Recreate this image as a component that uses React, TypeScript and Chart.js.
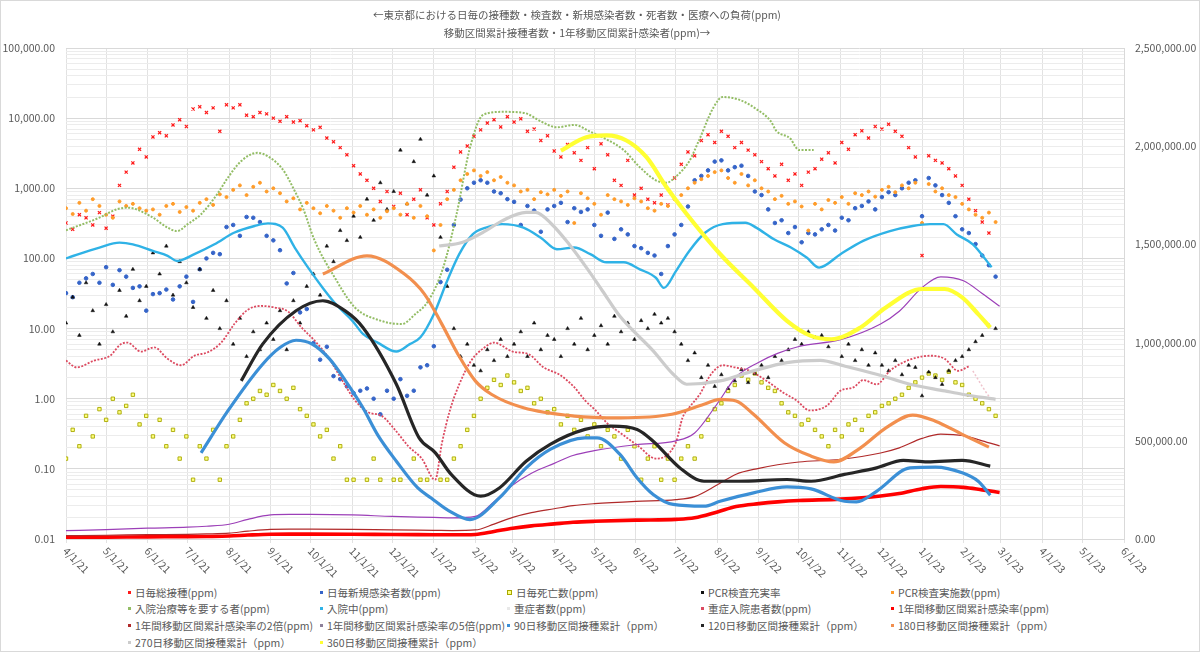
import React, { useEffect, useRef } from 'react';
import { Chart, registerables } from 'chart.js';

Chart.register(...registerables);

const FONT = "'Noto Sans CJK JP', 'Noto Sans', sans-serif";
const TEXT = '#595959';

const titleLines = [
  '←東京都における日毎の接種数・検査数・新規感染者数・死者数・医療への負荷(ppm)',
  '移動区間累計接種者数・1年移動区間累計感染者(ppm)→',
];

const START = Date.UTC(2021, 3, 1);
const toDay = (s: string) => {
  const [y, m, d] = s.split('-').map(Number);
  return (Date.UTC(y, m - 1, d) - START) / 86400000;
};

// month ticks 4/1/21 .. 6/1/23
const monthDays: number[] = [];
const monthLabels: string[] = [];
for (let k = 0; k <= 26; k++) {
  const y = 2021 + Math.floor((3 + k) / 12);
  const m = (3 + k) % 12;
  monthDays.push((Date.UTC(y, m, 1) - START) / 86400000);
  monthLabels.push(`${m + 1}/1/${String(y).slice(2)}`);
}

// daily scatter series, read every 5th day from 4/1/21
const sampleDays = Array.from({ length: 140 }, (_, i) => i * 5);

const dailyVaccinations = [
  320, 260, 420, 380, 300, 450,
  270, 400, 1100, 1700, 2300, 3600, 2800,
  5400, 6200, 5600, 8000, 9500, 7600,
  13500, 14500, 12000, 14000, 6500, 15500,
  14000, 15500, 11000, 10500, 12000, 11500,
  10000, 9000, 10500, 8800, 9200, 7800,
  6800, 7400, 5200, 4600, 3800, 3000,
  2100, 1600, 1300, 1000, 650, 900,
  550, 850, 420, 700, 950, 380,
  300, 600, 900, 2000, 3300, 4000, 5500,
  6800, 8500, 9500, 7500, 10500,
  8800, 9800, 6500, 7000, 4800, 5600,
  3400, 2800, 4200, 3200, 2500, 3800,
  1900, 4300, 3000, 1300, 1100, 2500, 800,
  1000, 700, 620, 800, 580, 1400,
  2200, 3300, 2900, 4800, 5800, 4500,
  6500, 5500, 3800, 4500, 3500, 3000,
  2400, 1900, 1500, 2200, 1300, 1600,
  1100, 1700, 1900, 2600, 3200, 2300,
  4500, 3600, 5800, 6600, 5200, 7600,
  7000, 8200, 6500, 5500, 3800, 2800,
  110, 2900, 2500, 2300, 1900, 1500, 1100,
  700, 480, 330, 230, null,
];

const dailyCases = [
  32, 28, 45, 52, 60, 45,
  75, 42, 68, 55, 38, 40, 18,
  31, 32, 36, 26, 40, 55,
  24, 70, 100, 120, 115, 280,
  300, 210, 390, 380, 330, 210,
  181, 131, 44, 62, 17, 19,
  6.2, 3.6, 5.5, 2.1, 1.9, 1.5,
  1.2, 1.3, 1.4, 1.0, 0.6, 1.3,
  1.0, 1.9, 1.1, 1.3, 2.8, 3.0,
  5.6, 46, 69, 300, 690, 1000, 1200,
  1300, 1200, 900, 850, 700,
  640, 300, 560, 480, 240, 500,
  560, 620, 330, 520, 460, 500,
  300, 210, 450, 190, 260, 220, 150,
  140, 120, 110, 60, 150, 220,
  300, 550, 1300, 1500, 1800, 2400,
  2500, 1800, 2000, 2100, 1500, 900,
  800, 500, 320, 350, 230, 280,
  170, 230, 220, 260, 300, 250,
  380, 350, 520, 560, 650, 500,
  750, 880, 800, 1000, 1200, 1300,
  400, 1400, 1100, 800, 620, 400, 260,
  230, 160, 110, 80, 55,
];

const dailyDeaths = [
  0.14, 0.36, 0.21, 0.57, 0.29, 0.71,
  0.5, 1.0, 0.64, 0.79, 1.14, 0.43, 0.57,
  0.29, 0.5, 0.21, 0.36, 0.14, 0.29,
  0.07, 0.21, 0.14, 0.36, 0.07, 0.21,
  0.29, 0.5, 0.86, 1.0, 1.29, 1.14,
  1.57, 1.29, 1.0, 1.43, 0.71, 0.57,
  0.43, 0.29, 0.36, 0.14, 0.21, 0.07,
  0.07, null, 0.07, 0.14, 0.07, null,
  0.07, 0.07, null, 0.14, 0.07, 0.07,
  null, 0.07, 0.07, 0.14, 0.21, 0.36, 0.57,
  1.0, 1.43, 1.86, 1.57, 2.14,
  1.71, 1.29, 1.43, 0.86, 1.0, 0.64,
  0.71, 0.43, 0.57, 0.36, 0.5, 0.29,
  0.43, 0.21, 0.36, 0.29, 0.14, 0.36, 0.21,
  0.07, 0.14, 0.21, 0.07, 0.14, 0.07,
  0.14, 0.21, 0.14, 0.29, 0.5, 0.71,
  0.86, 1.29, 1.57, 2.14, 1.86, 2.29,
  1.71, 1.43, 1.29, 0.86, 0.64, 0.57,
  0.43, 0.5, 0.36, 0.29, 0.21, 0.36,
  0.29, 0.43, 0.5, 0.36, 0.57, 0.64,
  0.79, 0.86, 1.0, 1.14, 1.43, 1.71,
  2.0, 2.29, 2.14, 1.86, 2.43, 1.71, 1.57,
  1.14, 1.0, 0.86, 0.71, 0.57,
];

const pcrRatio = [
  12, 28, 8, 45, 18, 6,
  22, 9, 35, 15, 70, 25, 40,
  120, 60, 150, 30, 90, 45,
  20, 70, 14, 35, 10, 25,
  6, 14, 4, 9, 5, 12,
  7, 18, 5, 25, 12, 40,
  60, 30, 150, 90, 250, 180,
  400, 200, 700, 350, 1200, 500,
  900, 3500, 600, 2400, 5000, 800,
  1500, 200, 40, 10, 4, 6, 3,
  2.5, 5, 3.5, 7, 4,
  6, 9, 4, 12, 5, 8,
  7, 4, 10, 6, 14, 5,
  8, 11, 6, 15, 9, 12, 7,
  13, 10, 16, 12, 14, 9,
  6, 3.5, 4.5, 2, 3, 1.5,
  2.2, 1.4, 1.8, 2.6, 1.7, 2.3,
  3, 2, 4, 3.5, 5, 7,
  6, 9, 7.5, 8, 5.5, 7,
  4, 6, 3.5, 5, 3, 4.5,
  3, 2.5, 3.5, 2.2, 3, 2.8,
  1.1, 2.4, 2, 1.6, 2.5, 3.5, 4,
  5, 6.5, 8, 11, 10,
];

const pcrTests = [
  520, 430, 620, 480, 700, 560,
  420, 380, 650, 560, 600, 520, 480,
  500, 420, 560, 600, 460, 540,
  480, 620, 700, 580, 820, 750,
  950, 1100, 800, 1050, 1200, 900,
  1000, 850, 650, 720, 500, 620,
  520, 440, 560, 480, 380, 520,
  450, 560, 420, 500, 380, 470,
  520, 420, 600, 380, 560, 400,
  130, 300, 700, 950, 1300, 1600, 1800,
  1500, 1700, 1300, 1450, 1200,
  1100, 900, 950, 700, 880, 820,
  950, 780, 900, 320, 850, 720,
  600, 420, 800, 700, 650, 580, 720,
  650, 520, 480, 600, 560, 700,
  800, 1000, 1200, 1350, 1500, 1700,
  1800, 1400, 1200, 1600, 1100, 1300,
  1000, 900, 700, 780, 600, 650,
  550, 250, 600, 500, 680, 620,
  750, 600, 850, 800, 900, 760,
  950, 1050, 880, 1100, 1000, 1200,
  320, 1150, 900, 1000, 800, 750, 600,
  500, 420, 380, 450, 330,
];

// smooth series (ppm), left log axis
const needCareDates = ['2021-04-01', '2021-04-26', '2021-05-09', '2021-05-17', '2021-06-03', '2021-06-16', '2021-06-23', '2021-07-01', '2021-07-11', '2021-07-23', '2021-07-31', '2021-08-10', '2021-08-22', '2021-08-30', '2021-09-10', '2021-09-19', '2021-09-25', '2021-10-04', '2021-10-19', '2021-11-03', '2021-11-22', '2021-12-08', '2021-12-18', '2021-12-28', '2022-01-08', '2022-01-18', '2022-01-28', '2022-02-07', '2022-02-22', '2022-03-10', '2022-03-22', '2022-04-03', '2022-04-16', '2022-04-28', '2022-05-10', '2022-05-23', '2022-06-04', '2022-06-16', '2022-06-24', '2022-07-01', '2022-07-11', '2022-07-18', '2022-07-29', '2022-08-05', '2022-08-18', '2022-08-30', '2022-09-10', '2022-09-14', '2022-09-25', '2022-09-28', '2022-10-01', '2022-10-12'];
const needCare = [252, 382, 502, 530, 403, 275, 245, 308, 427, 822, 1415, 2443, 3206, 2850, 1862, 916, 530, 178, 53, 20, 13, 11.6, 16, 25, 74, 427, 3777, 11200, 12300, 11800, 9000, 7400, 8000, 6400, 5000, 3500, 2000, 1300, 1200, 1470, 2440, 4700, 14100, 20000, 18100, 13500, 9000, 6600, 5000, 4000, 3500, 3500];

const inHospitalDates = ['2021-04-01', '2021-04-26', '2021-05-11', '2021-05-21', '2021-06-05', '2021-06-16', '2021-06-23', '2021-07-06', '2021-07-21', '2021-08-05', '2021-08-20', '2021-08-30', '2021-09-10', '2021-09-19', '2021-09-29', '2021-10-10', '2021-10-20', '2021-11-01', '2021-11-09', '2021-11-20', '2021-12-04', '2021-12-14', '2021-12-22', '2022-01-01', '2022-01-11', '2022-01-20', '2022-01-30', '2022-02-09', '2022-02-21', '2022-03-09', '2022-03-22', '2022-04-03', '2022-04-16', '2022-04-28', '2022-05-10', '2022-05-23', '2022-06-04', '2022-06-16', '2022-06-22', '2022-07-01', '2022-07-11', '2022-07-23', '2022-08-05', '2022-08-22', '2022-08-30', '2022-09-12', '2022-09-25', '2022-10-07', '2022-10-16', '2022-11-01', '2022-11-18', '2022-12-08', '2022-12-25', '2023-01-07', '2023-01-17', '2023-01-27', '2023-02-08', '2023-02-22'];
const inHospital = [100, 143, 168, 159, 128, 109, 92, 115, 159, 234, 290, 316, 275, 143, 74, 38, 22, 13, 8.4, 6.3, 4.7, 6.0, 7.5, 16, 48, 115, 220, 275, 308, 275, 197, 135, 143, 115, 88, 88, 70, 53, 38, 66, 128, 234, 308, 322, 275, 189, 143, 102, 74, 115, 178, 245, 290, 308, 308, 220, 159, 75];

const severeDates = ['2023-02-08', '2023-02-15', '2023-02-22'];
const severe = [2.5, 1.5, 0.95];

const severeHospDates = ['2021-04-01', '2021-04-09', '2021-04-22', '2021-05-04', '2021-05-12', '2021-05-17', '2021-05-27', '2021-06-06', '2021-06-16', '2021-06-26', '2021-07-06', '2021-07-16', '2021-07-26', '2021-08-05', '2021-08-15', '2021-08-25', '2021-09-04', '2021-09-14', '2021-09-24', '2021-10-04', '2021-10-14', '2021-10-24', '2021-11-03', '2021-11-13', '2021-11-23', '2021-12-03', '2021-12-13', '2021-12-23', '2022-01-02', '2022-01-07', '2022-01-13', '2022-01-20', '2022-01-29', '2022-02-08', '2022-02-15', '2022-03-01', '2022-03-13', '2022-03-24', '2022-04-05', '2022-04-16', '2022-04-24', '2022-05-02', '2022-05-11', '2022-05-21', '2022-06-03', '2022-06-16', '2022-07-01', '2022-07-06', '2022-07-11', '2022-07-19', '2022-07-27', '2022-08-05', '2022-08-14', '2022-08-25', '2022-09-06', '2022-09-19', '2022-09-29', '2022-10-09', '2022-10-22', '2022-11-01', '2022-11-11', '2022-11-18', '2022-11-28', '2022-12-08', '2022-12-18', '2022-12-29', '2023-01-08', '2023-01-18', '2023-01-28', '2023-02-05'];
const severeHosp = [3.5, 2.8, 3.5, 4.1, 6.0, 6.3, 4.7, 5.4, 3.7, 3.0, 4.1, 4.6, 6.3, 11.7, 18.6, 21, 20, 17.5, 10.4, 6.7, 3.9, 1.9, 0.95, 0.64, 0.57, 0.36, 0.21, 0.14, 0.07, 0.23, 0.68, 1.6, 3.5, 5.4, 6.3, 4.7, 4.3, 2.8, 2.2, 1.46, 0.95, 0.68, 0.44, 0.32, 0.21, 0.14, 0.24, 0.54, 0.75, 1.17, 2.2, 3.0, 2.8, 2.5, 1.84, 1.23, 0.95, 0.68, 0.8, 1.3, 1.46, 1.84, 1.6, 2.5, 3.3, 3.9, 4.1, 3.7, 2.5, 2.9];

// right linear axis (ppm)
const infDates = ['2021-04-01', '2021-05-01', '2021-06-01', '2021-07-01', '2021-07-15', '2021-08-01', '2021-08-15', '2021-09-01', '2021-09-15', '2021-10-01', '2021-11-01', '2021-12-01', '2022-01-01', '2022-01-15', '2022-02-01', '2022-02-15', '2022-03-01', '2022-03-15', '2022-04-01', '2022-04-15', '2022-05-01', '2022-06-01', '2022-07-01', '2022-07-15', '2022-08-01', '2022-08-15', '2022-09-01', '2022-09-15', '2022-10-01', '2022-11-01', '2022-12-01', '2022-12-15', '2023-01-01', '2023-01-15', '2023-02-01', '2023-02-15', '2023-02-28'];
const inf1y = [8500, 9500, 11000, 12000, 13000, 15000, 20000, 24500, 25000, 25000, 24500, 23000, 22000, 21500, 23000, 38000, 55000, 67000, 77000, 85000, 90000, 96000, 100000, 108000, 138000, 165000, 180000, 189000, 196000, 203000, 219000, 232000, 256000, 267000, 263000, 250000, 237000];
const inf1y2x = [17000, 19000, 22000, 24000, 26000, 30000, 40000, 49000, 50000, 50000, 49000, 46000, 44000, 43000, 46000, 76000, 110000, 134000, 154000, 170000, 180000, 192000, 200000, 216000, 276000, 330000, 360000, 378000, 392000, 406000, 438000, 464000, 512000, 534000, 526000, 500000, 474000];
const inf1y5x = [42500, 47500, 55000, 60000, 65000, 75000, 100000, 122500, 125000, 125000, 122500, 115000, 110000, 107500, 115000, 190000, 275000, 335000, 385000, 425000, 450000, 480000, 500000, 540000, 690000, 825000, 900000, 945000, 980000, 1015000, 1095000, 1160000, 1280000, 1335000, 1315000, 1250000, 1185000];

const vax90Dates = ['2021-07-11', '2021-07-31', '2021-08-26', '2021-09-08', '2021-09-20', '2021-10-02', '2021-10-15', '2021-10-27', '2021-11-09', '2021-11-20', '2021-12-04', '2021-12-20', '2021-12-30', '2022-01-12', '2022-01-28', '2022-02-19', '2022-03-11', '2022-03-29', '2022-04-24', '2022-05-03', '2022-05-20', '2022-06-02', '2022-06-14', '2022-06-29', '2022-07-22', '2022-08-03', '2022-08-28', '2022-09-22', '2022-10-10', '2022-11-04', '2022-11-13', '2022-11-28', '2022-12-23', '2023-01-11', '2023-01-31', '2023-02-12', '2023-02-21'];
const vax90 = [439000, 652000, 890000, 975000, 1012000, 993000, 917000, 805000, 668000, 530000, 396000, 260000, 209000, 145000, 99000, 209000, 362000, 456000, 515000, 515000, 432000, 311000, 227000, 176000, 167000, 192000, 235000, 265000, 255000, 192000, 189000, 243000, 362000, 366000, 337000, 294000, 223000];

const vax120Dates = ['2021-08-10', '2021-08-26', '2021-09-20', '2021-10-10', '2021-10-27', '2021-11-09', '2021-12-04', '2021-12-21', '2022-01-02', '2022-01-14', '2022-02-05', '2022-02-19', '2022-03-11', '2022-03-29', '2022-04-24', '2022-05-14', '2022-06-02', '2022-06-14', '2022-07-04', '2022-07-22', '2022-08-17', '2022-09-22', '2022-10-10', '2022-11-04', '2022-11-28', '2022-12-18', '2023-01-05', '2023-01-31', '2023-02-21'];
const vax120 = [805000, 992000, 1162000, 1213000, 1160000, 1077000, 788000, 515000, 440000, 329000, 218000, 260000, 396000, 482000, 558000, 575000, 558000, 498000, 362000, 294000, 294000, 303000, 294000, 329000, 362000, 400000, 393000, 400000, 371000];

const vax180Dates = ['2021-10-10', '2021-11-12', '2021-12-10', '2021-12-25', '2022-01-07', '2022-01-19', '2022-02-01', '2022-02-13', '2022-03-09', '2022-04-16', '2022-05-20', '2022-06-28', '2022-07-22', '2022-08-03', '2022-08-15', '2022-08-28', '2022-09-20', '2022-10-10', '2022-10-27', '2022-11-16', '2022-12-05', '2022-12-25', '2023-01-11', '2023-01-31', '2023-02-20'];
const vax180 = [1349000, 1442000, 1349000, 1247000, 1094000, 941000, 805000, 737000, 668000, 626000, 617000, 635000, 686000, 711000, 703000, 635000, 490000, 422000, 393000, 464000, 566000, 631000, 600000, 533000, 468000];

const vax270Dates = ['2022-01-05', '2022-01-22', '2022-02-09', '2022-02-21', '2022-03-11', '2022-03-18', '2022-03-30', '2022-04-12', '2022-04-25', '2022-05-07', '2022-05-20', '2022-06-14', '2022-06-29', '2022-07-09', '2022-08-03', '2022-08-28', '2022-09-22', '2022-10-17', '2022-11-04', '2022-11-28', '2022-12-23', '2023-01-18', '2023-01-31', '2023-02-25'];
const vax270 = [1492000, 1510000, 1570000, 1620000, 1663000, 1663000, 1604000, 1502000, 1383000, 1264000, 1135000, 958000, 839000, 788000, 805000, 856000, 898000, 910000, 881000, 839000, 788000, 754000, 737000, 711000];

const vax360Dates = ['2022-04-06', '2022-04-25', '2022-05-10', '2022-05-25', '2022-06-09', '2022-06-24', '2022-07-09', '2022-08-03', '2022-08-28', '2022-09-22', '2022-10-10', '2022-10-25', '2022-11-16', '2022-12-05', '2023-01-01', '2023-01-18', '2023-01-31', '2023-02-12', '2023-02-21'];
const vax360 = [1977000, 2046000, 2055000, 2029000, 1944000, 1791000, 1655000, 1451000, 1281000, 1111000, 1034000, 1017000, 1077000, 1179000, 1273000, 1273000, 1230000, 1145000, 1077000];

const logTicks: number[] = [];
for (let e = -2; e <= 4; e++) {
  for (let m = 1; m <= 9; m++) logTicks.push(parseFloat((m * Math.pow(10, e)).toPrecision(3)));
}
logTicks.push(100000);

const isDecade = (v: number) => {
  const l = Math.log10(v);
  return Math.abs(l - Math.round(l)) < 1e-9;
};
const fmt = (v: number) => v.toLocaleString('en-US', { minimumFractionDigits: 2, maximumFractionDigits: 2 });

const xy = (xs: number[], ys: (number | null)[]) => ys.map((y, i) => ({ x: xs[i], y }));
const xyDates = (ds: string[], ys: number[]) => ys.map((y, i) => ({ x: toDay(ds[i]), y }));

const dots = (label: string, data: any[], style: string, color: string, r: number, extra: any = {}) => ({
  label, data, yAxisID: 'yL', showLine: false,
  pointStyle: style, pointRadius: r, pointHoverRadius: r,
  pointBackgroundColor: color, pointBorderColor: color, pointBorderWidth: 1,
  backgroundColor: color, borderColor: color, legendColor: color, ...extra,
});

const line = (label: string, data: any[], axis: string, color: string, width: number, extra: any = {}) => ({
  label, data, yAxisID: axis, showLine: true, pointRadius: 0, pointHoverRadius: 0,
  borderColor: color, backgroundColor: color, borderWidth: width,
  cubicInterpolationMode: 'monotone', legendColor: color, ...extra,
});

const seriesDefs: any[] = [
  dots('日毎総接種(ppm)', xy(sampleDays, dailyVaccinations), 'crossRot', '#ff1a1a', 2.2, { pointBorderWidth: 1.2 }),
  dots('日毎新規感染者数(ppm)', xy(sampleDays, dailyCases), 'circle', '#3564c8', 1.8),
  dots('日毎死亡数(ppm)', xy(sampleDays, dailyDeaths), 'rect', '#a8a800', 2.4, { pointBackgroundColor: '#ffff80', pointBorderWidth: 0.9, hollow: true }),
  dots('PCR検査充実率', xy(sampleDays, pcrRatio), 'triangle', '#111111', 2.1, { pointBorderWidth: 0.5 }),
  dots('PCR検査実施数(ppm)', xy(sampleDays, pcrTests), 'circle', '#ff9c2a', 1.5),
  line('入院治療等を要する者(ppm)', xyDates(needCareDates, needCare), 'yL', '#93bd65', 2, { borderDash: [2, 1.5] }),
  line('入院中(ppm)', xyDates(inHospitalDates, inHospital), 'yL', '#2fb2e6', 2.4),
  line('重症者数(ppm)', xyDates(severeDates, severe), 'yL', '#efc3cc', 1.5, { borderDash: [2, 2], legendColor: '#e8e8e8' }),
  line('重症入院患者数(ppm)', xyDates(severeHospDates, severeHosp), 'yL', '#dc4a60', 1.8, { borderDash: [2, 1.5] }),
  line('1年間移動区間累計感染率(ppm)', xyDates(infDates, inf1y), 'yR', '#ff0000', 3.6),
  line('1年間移動区間累計感染率の2倍(ppm)', xyDates(infDates, inf1y2x), 'yR', '#b02a2a', 1.2),
  line('1年間移動区間累計感染率の5倍(ppm)', xyDates(infDates, inf1y5x), 'yR', '#9c3fb8', 1.2, { legendColor: '#8c7f99' }),
  line('90日移動区間接種累計（ppm）', xyDates(vax90Dates, vax90), 'yR', '#3b8fd6', 3.2),
  line('120日移動区間接種累計（ppm）', xyDates(vax120Dates, vax120), 'yR', '#262626', 3.2),
  line('180日移動区間接種累計（ppm）', xyDates(vax180Dates, vax180), 'yR', '#f28f4e', 3.2),
  line('270日移動区間接種累計（ppm）', xyDates(vax270Dates, vax270), 'yR', '#cccccc', 3.2),
  line('360日移動区間接種累計（ppm）', xyDates(vax360Dates, vax360), 'yR', '#ffff33', 4.2),
];

const titlePlugin = {
  id: 'titleLines',
  afterDraw(chart: any) {
    const ctx = chart.ctx;
    ctx.save();
    ctx.font = `10.5px ${FONT}`;
    ctx.fillStyle = TEXT;
    ctx.textAlign = 'center';
    ctx.textBaseline = 'middle';
    titleLines.forEach((t, i) => ctx.fillText(t, 576, 14 + i * 18.5));
    ctx.restore();
  },
};

const monthLabelPlugin = {
  id: 'monthLabels',
  afterDraw(chart: any) {
    const xs = chart.scales.x;
    const ctx = chart.ctx;
    ctx.save();
    ctx.font = `10.5px ${FONT}`;
    ctx.fillStyle = TEXT;
    ctx.textAlign = 'left';
    ctx.textBaseline = 'middle';
    monthDays.forEach((d, i) => {
      const px = xs.getPixelForValue(d);
      ctx.save();
      ctx.translate(px - 1, xs.top + 10);
      ctx.rotate(Math.PI / 4);
      ctx.fillText(monthLabels[i], 0, 0);
      ctx.restore();
    });
    ctx.restore();
  },
};

const Legend = () => (
  <div
    style={{
      position: 'absolute', top: 583, left: 127,
      display: 'grid', gridTemplateColumns: '192px 187px 194px 190px 220px',
      gridAutoRows: '16.6px', fontSize: 10.5, color: TEXT, fontFamily: FONT,
    }}
  >
    {seriesDefs.map((s) => (
      <div key={s.label} style={{ display: 'flex', alignItems: 'center', whiteSpace: 'nowrap' }}>
        <span
          style={{
            width: 3, height: 3, marginRight: 4, flex: 'none',
            background: s.hollow ? '#ffff80' : s.legendColor,
            border: s.hollow ? `1px solid ${s.legendColor}` : 'none',
          }}
        />
        <span>{s.label}</span>
      </div>
    ))}
  </div>
);

const App = () => {
  const chartRef = useRef<HTMLCanvasElement | null>(null);

  useEffect(() => {
    document.body.style.margin = '0';
    if (!chartRef.current) return;

    const datasets = seriesDefs.map((s, i) => ({ ...s, order: 100 - i }));

    const chart = new Chart(chartRef.current, {
      type: 'scatter',
      data: { datasets },
      options: {
        animation: false,
        responsive: false,
        layout: { padding: { top: 47, left: 0, right: 0, bottom: 0 } },
        plugins: {
          legend: { display: false },
          tooltip: { enabled: false },
        },
        scales: {
          x: {
            type: 'linear',
            min: 0,
            max: 791,
            afterBuildTicks: (s: any) => { s.ticks = monthDays.map((v) => ({ value: v })); },
            afterFit: (s: any) => { s.height = 42; },
            ticks: { display: false },
            grid: { color: '#e2e2e2', tickLength: 4 },
            border: { color: '#d9d9d9' },
          },
          yL: {
            type: 'logarithmic',
            axis: 'y',
            position: 'left',
            min: 0.01,
            max: 100000,
            afterBuildTicks: (s: any) => { s.ticks = logTicks.map((v) => ({ value: v })); },
            afterFit: (s: any) => { s.width = 65; },
            ticks: {
              autoSkip: false,
              padding: 11,
              color: TEXT,
              font: { family: FONT, size: 10.5 },
              callback: (v: any) => (isDecade(Number(v)) ? fmt(Number(v)) : ''),
            },
            grid: {
              drawTicks: false,
              color: (c: any) => (c.tick && isDecade(c.tick.value) ? '#d9d9d9' : '#ececec'),
            },
            border: { display: false },
          },
          yR: {
            type: 'linear',
            axis: 'y',
            position: 'right',
            min: 0,
            max: 2500000,
            afterFit: (s: any) => { s.width = 75; },
            ticks: {
              stepSize: 500000,
              padding: 11,
              color: TEXT,
              font: { family: FONT, size: 10.5 },
              callback: (v: any) => fmt(Number(v)),
            },
            grid: { display: false, drawTicks: false },
            border: { color: '#d9d9d9' },
          },
        },
      } as any,
      plugins: [titlePlugin, monthLabelPlugin],
    });

    return () => {
      chart.destroy();
    };
  }, []);

  return (
    <div
      style={{
        position: 'relative', width: 1200, height: 652, background: '#fff',
        boxSizing: 'border-box', border: '1px solid #d9d9d9', overflow: 'hidden',
      }}
    >
      <canvas ref={chartRef} width={1198} height={580} style={{ display: 'block' }} />
      <Legend />
    </div>
  );
};

export default App;
